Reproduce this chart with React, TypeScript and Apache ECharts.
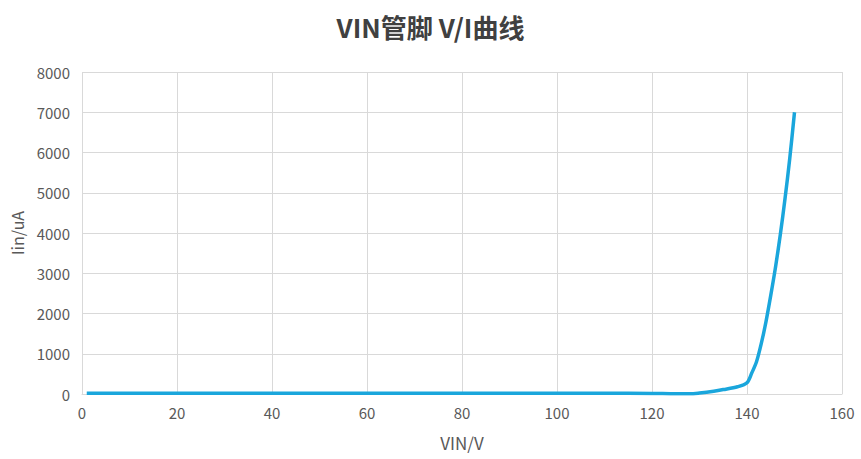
import React, { useEffect, useRef } from "react";
import * as echarts from "echarts";

const vin: number[] = [1, 10, 20, 30, 40, 50, 60, 70, 80, 90, 100, 110, 120, 125, 128, 130, 133, 135, 138, 140, 141, 142, 143, 144, 145, 146, 147, 148, 149, 150];
const iin: number[] = [20, 20, 20, 20, 20, 20, 20, 20, 20, 20, 20, 20, 15, 5, 5, 25, 70, 110, 180, 280, 520, 800, 1250, 1800, 2450, 3150, 3950, 4850, 5850, 7000];

const xTicks = { min: 0, max: 160, interval: 20 };
const yTicks = { min: 0, max: 8000, interval: 1000 };

export default function App() {
  const ref = useRef<HTMLDivElement>(null);
  useEffect(() => {
    if (!ref.current) return;
    const chart = echarts.init(ref.current, undefined, { renderer: "svg" });
    const font = '"Noto Sans CJK SC", "Noto Sans", sans-serif';
    chart.setOption({
      animation: false,
      backgroundColor: "#ffffff",
      title: {
        text: "VIN管脚 V/I曲线",
        left: "center",
        top: 8,
        textStyle: { fontFamily: font, fontSize: 26, fontWeight: "bold", color: "#404040" },
      },
      grid: { left: 82, right: 19, top: 72, bottom: 65, outerBoundsMode: "none", containLabel: false },
      xAxis: {
        type: "value",
        min: xTicks.min,
        max: xTicks.max,
        interval: xTicks.interval,
        name: "VIN/V",
        nameLocation: "middle",
        nameGap: 40,
        nameTextStyle: { fontFamily: font, fontSize: 17, color: "#595959" },
        axisLine: { show: true, lineStyle: { color: "#d9d9d9", width: 1 } },
        axisTick: { show: false },
        axisLabel: { fontFamily: font, fontSize: 15, color: "#595959", margin: 11, formatter: (v: number) => String(v) },
        splitLine: { show: true, lineStyle: { color: "#d9d9d9", width: 1 } },
      },
      yAxis: {
        type: "value",
        min: yTicks.min,
        max: yTicks.max,
        interval: yTicks.interval,
        name: "Iin/uA",
        nameLocation: "middle",
        nameGap: 57,
        nameRotate: 90,
        nameTextStyle: { fontFamily: font, fontSize: 16, color: "#595959" },
        axisLine: { show: false },
        axisTick: { show: false },
        axisLabel: { fontFamily: font, fontSize: 15, color: "#595959", margin: 12, formatter: (v: number) => String(v) },
        splitLine: { show: true, lineStyle: { color: "#d9d9d9", width: 1 } },
      },
      series: [
        {
          type: "line",
          data: vin.map((v, i) => [v, iin[i]]),
          smooth: 0.3,
          showSymbol: false,
          lineStyle: { color: "#1aa6dc", width: 3.5 },
          itemStyle: { color: "#1aa6dc" },
        },
      ],
    });
    return () => chart.dispose();
  }, []);
  return (
    <div
      ref={ref}
      style={{ position: "absolute", left: 0, top: 0, width: 861, height: 459 }}
    />
  );
}
